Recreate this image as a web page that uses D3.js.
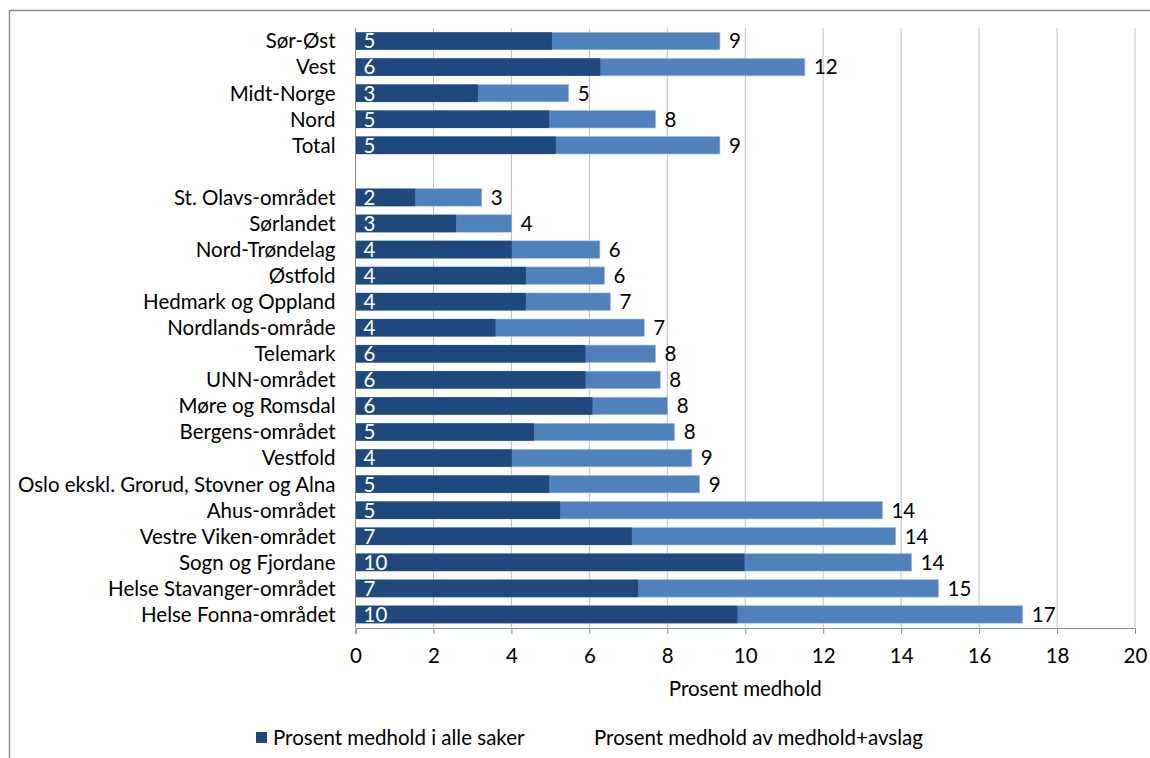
<!DOCTYPE html>
<html>
<head>
<meta charset="utf-8">
<script src="https://cdn.jsdelivr.net/npm/d3@7"></script>
<style>
  html, body { margin: 0; padding: 0; background: #fff; }
  svg { display: block; }
  text { font-family: Lato, "Open Sans", sans-serif; fill: #000; }
</style>
</head>
<body>
<svg id="chart" width="1150" height="758"></svg>
<script>
// Regions / health trusts, top to bottom ("" is the spacer row)
const categories = [
  "Sør-Øst", "Vest", "Midt-Norge", "Nord", "Total", "",
  "St. Olavs-området", "Sørlandet", "Nord-Trøndelag", "Østfold",
  "Hedmark og Oppland", "Nordlands-område", "Telemark", "UNN-området",
  "Møre og Romsdal", "Bergens-området", "Vestfold",
  "Oslo ekskl. Grorud, Stovner og Alna", "Ahus-området",
  "Vestre Viken-området", "Sogn og Fjordane", "Helse Stavanger-området",
  "Helse Fonna-området"
];
// Percent upheld of all cases
const medholdAlle = [
  5.04, 6.28, 3.14, 4.97, 5.14, null,
  1.53, 2.58, 4.01, 4.37, 4.37, 3.59, 5.90, 5.90, 6.08, 4.58, 4.01,
  4.97, 5.25, 7.09, 9.98, 7.25, 9.80
];
// Percent upheld of upheld + rejected
const medholdAvslag = [
  9.35, 11.53, 5.47, 7.70, 9.35, null,
  3.24, 4.01, 6.27, 6.39, 6.54, 7.41, 7.70, 7.82, 8.01, 8.19, 8.63,
  8.83, 13.52, 13.86, 14.27, 14.96, 17.12
];
const xTicks = [0, 2, 4, 6, 8, 10, 12, 14, 16, 18, 20];
const seriesNames = ["Prosent medhold i alle saker", "Prosent medhold av medhold+avslag"];
const axisTitle = "Prosent medhold";

const colDark = "#1f497d", colLight = "#4f81bd";
const fs = 20.5;
const svg = d3.select("#chart");

// outer chart frame
svg.append("rect")
  .attr("x", 9.5).attr("y", 10.5).attr("width", 1160).attr("height", 760)
  .attr("fill", "none").attr("stroke", "#8c8c8c").attr("stroke-width", 1.5);

const plot = { left: 355.5, right: 1135, top: 28, bottom: 627.5 };

const x = d3.scaleLinear().domain([0, 20]).range([plot.left, plot.right]);
const y = d3.scaleBand().domain(d3.range(categories.length))
  .range([plot.top, plot.bottom]).paddingInner(0.33).paddingOuter(0.165);

// vertical gridlines
svg.append("g").selectAll("line").data(xTicks.filter(d => d > 0)).join("line")
  .attr("x1", d => x(d)).attr("x2", d => x(d))
  .attr("y1", plot.top).attr("y2", plot.bottom)
  .attr("stroke", "#bfbfbf").attr("stroke-width", 1);

const rows = categories.map((c, i) => ({ c, i, a: medholdAlle[i], b: medholdAvslag[i] }))
  .filter(d => d.a != null);

// light series (full length) then dark series on top
svg.append("g").selectAll("rect").data(rows).join("rect")
  .attr("x", x(0)).attr("y", d => y(d.i))
  .attr("width", d => x(d.b) - x(0)).attr("height", y.bandwidth())
  .attr("fill", colLight).attr("stroke", "#a7c0de").attr("stroke-width", 0.6);
svg.append("g").selectAll("rect").data(rows).join("rect")
  .attr("x", x(0)).attr("y", d => y(d.i))
  .attr("width", d => x(d.a) - x(0)).attr("height", y.bandwidth())
  .attr("fill", colDark);

// value labels
svg.append("g").selectAll("text").data(rows).join("text")
  .attr("x", x(0) + 8).attr("y", d => y(d.i) + y.bandwidth() / 2)
  .attr("dy", "0.36em").style("fill", "#fff").attr("font-size", fs)
  .text(d => Math.round(d.a));
svg.append("g").selectAll("text").data(rows).join("text")
  .attr("x", d => x(d.b) + 9).attr("y", d => y(d.i) + y.bandwidth() / 2)
  .attr("dy", "0.36em").attr("font-size", fs)
  .text(d => Math.round(d.b));

// category labels
svg.append("g").selectAll("text").data(categories.map((c, i) => ({ c, i }))).join("text")
  .attr("x", plot.left - 20).attr("y", d => y(d.i) + y.bandwidth() / 2)
  .attr("dy", "0.36em").attr("text-anchor", "end").attr("font-size", fs)
  .text(d => d.c);

// category axis line
svg.append("line")
  .attr("x1", plot.left).attr("x2", plot.left).attr("y1", plot.top).attr("y2", plot.bottom)
  .attr("stroke", "#8c8c8c").attr("stroke-width", 1);

// value axis
const xAxis = svg.append("g").attr("transform", `translate(0,${plot.bottom + 0.5})`)
  .call(d3.axisBottom(x).tickValues(xTicks).tickSize(6).tickPadding(14).tickFormat(d3.format("d")));
xAxis.select(".domain").attr("stroke", "#8c8c8c");
xAxis.selectAll(".tick line").attr("stroke", "#8c8c8c");
xAxis.selectAll("text").attr("font-size", fs).attr("font-family", "Lato, sans-serif").style("fill", "#000");

svg.append("text").attr("x", (plot.left + plot.right) / 2).attr("y", 696)
  .attr("text-anchor", "middle").attr("font-size", fs).text(axisTitle);

// legend
const legend = svg.append("g");
legend.append("rect").attr("x", 256).attr("y", 732).attr("width", 11).attr("height", 11).attr("fill", colDark);
legend.append("text").attr("x", 273).attr("y", 745).attr("font-size", fs).text(seriesNames[0]);
legend.append("text").attr("x", 594).attr("y", 745).attr("font-size", fs).text(seriesNames[1]);
</script>
</body>
</html>
